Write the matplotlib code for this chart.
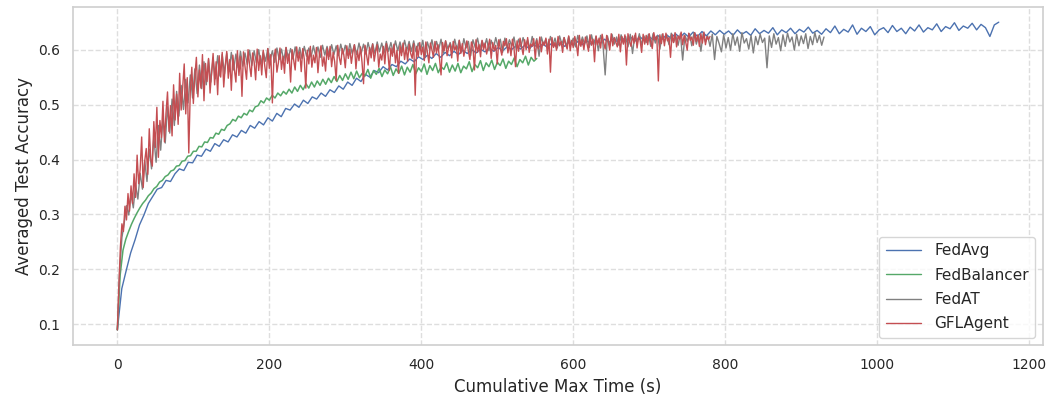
import numpy as np
import matplotlib
matplotlib.use("Agg")
import matplotlib.pyplot as plt
import seaborn as sns

# accuracy values in percent
fedavg_end = 1160
fedavg = [
    9.0, 16.5, 19.8, 23.0, 25.4, 28.1, 29.9, 32.0, 33.3, 34.6, 34.9, 36.2, 36.0, 37.4, 38.3, 38.0, 39.5, 39.4, 40.8, 40.6,
    41.9, 41.5, 42.9, 42.4, 43.6, 43.2, 44.5, 44.1, 45.3, 44.8, 46.2, 45.7, 46.9, 46.3, 47.6, 47.0, 48.4, 47.8, 49.3, 49.0,
    50.1, 49.5, 50.8, 50.2, 51.4, 51.0, 52.1, 51.5, 52.7, 52.2, 53.4, 52.8, 54.1, 53.5, 54.8, 54.2, 55.5, 55.0, 56.2, 55.8,
    56.9, 56.3, 57.3, 56.9, 57.9, 57.4, 58.3, 57.8, 58.7, 58.2, 59.0, 58.4, 59.3, 58.6, 59.5, 58.9, 59.7, 59.1, 59.9, 59.3,
    60.0, 59.4, 60.1, 59.6, 60.3, 59.7, 60.4, 59.8, 60.5, 60.0, 60.7, 60.1, 60.8, 60.2, 60.9, 60.4, 61.0, 60.5, 61.1, 60.6,
    61.2, 60.6, 61.4, 60.8, 61.5, 60.9, 61.6, 61.0, 61.8, 61.1, 61.9, 61.3, 62.0, 61.4, 62.1, 61.5, 62.2, 61.6, 62.3, 61.7,
    62.4, 61.8, 62.6, 61.9, 62.7, 62.1, 62.9, 62.2, 63.0, 62.3, 63.2, 62.4, 63.3, 62.5, 63.4, 62.7, 63.5, 62.8, 63.4, 62.6,
    63.6, 62.8, 63.3, 62.6, 63.8, 62.9, 63.5, 63.0, 64.0, 62.7, 63.6, 63.1, 63.9, 62.9, 63.7, 63.2, 64.1, 63.0, 63.5, 62.8,
    63.8, 63.1, 64.3, 62.9, 63.7, 63.2, 64.5, 62.8, 63.9, 63.3, 64.2, 62.7, 63.6, 64.0, 63.1, 64.4, 63.3, 63.9, 62.9, 64.1,
    63.4, 64.5, 63.2, 64.0, 63.6, 64.7, 63.3, 64.2, 63.8, 64.9, 63.5, 64.3, 63.9, 64.8, 63.6, 64.6, 64.0, 62.4, 64.5, 65.0,
]

fedbalancer_end = 552
fedbalancer = [
    9.0, 19.0, 23.5, 25.5, 26.9, 28.2, 29.3, 30.3, 31.2, 32.0, 32.6, 33.4, 33.9, 34.7, 35.1, 35.9, 36.2, 36.9, 37.2, 37.9,
    38.1, 38.8, 38.9, 39.7, 39.8, 40.6, 40.7, 41.5, 41.5, 42.4, 42.3, 43.2, 43.1, 44.0, 43.9, 44.8, 44.6, 45.5, 45.3, 46.2,
    46.5, 47.3, 47.0, 47.9, 47.6, 48.4, 48.1, 49.0, 48.7, 49.6, 49.8, 50.7, 50.3, 51.2, 50.8, 51.7, 51.2, 52.1, 51.6, 52.4,
    51.9, 52.8, 52.1, 53.2, 52.4, 53.5, 52.7, 53.8, 53.0, 54.1, 53.2, 54.3, 53.5, 54.6, 53.7, 54.8, 54.0, 55.1, 54.2, 55.3,
    54.4, 55.6, 54.6, 55.9, 54.7, 56.1, 54.9, 55.7, 55.2, 56.4, 54.8, 56.2, 55.5, 56.6, 55.1, 56.3, 55.6, 56.9, 55.3, 56.5,
    55.7, 57.0, 55.4, 56.8, 55.9, 57.3, 55.6, 56.7, 56.0, 57.4, 55.5, 57.1, 56.2, 57.5, 55.8, 56.9, 56.4, 57.6, 55.9, 57.2,
    56.1, 57.5, 55.8, 57.0, 56.5, 57.8, 56.0, 57.3, 56.7, 58.0, 56.2, 57.6, 56.9, 58.1, 56.4, 57.7, 57.1, 58.3, 56.6, 57.9,
    57.3, 58.5, 56.9, 58.2, 57.6, 58.8, 57.2, 58.6, 57.9, 58.4,
]

fedat_end = 930
fedat = [
    9.0, 19.5, 25.8, 28.4, 31.6, 29.9, 33.7, 31.2, 35.4, 32.8,
    37.5, 34.6, 39.8, 36.0, 41.9, 38.3, 44.0, 39.5, 46.2, 41.7,
    47.5, 43.0, 49.6, 44.8, 51.0, 46.2, 52.4, 47.9, 53.5, 49.1,
    54.6, 50.3, 55.4, 51.2, 56.5, 52.0, 57.2, 52.9, 57.8, 53.6,
    58.2, 54.1, 58.5, 54.7, 58.9, 55.2, 59.1, 55.6, 59.3, 56.0,
    59.5, 56.3, 59.2, 56.7, 59.7, 57.0, 59.4, 57.3, 59.9, 57.1,
    59.8, 57.6, 60.0, 57.4, 59.6, 57.9, 60.2, 58.1, 59.8, 57.7,
    60.3, 58.2, 60.1, 58.0, 60.4, 58.5, 60.2, 58.3, 60.5, 58.6,
    60.4, 58.4, 60.6, 58.8, 60.3, 58.7, 60.7, 58.9, 60.5, 58.6,
    60.8, 59.0, 60.6, 58.8, 60.9, 59.1, 60.7, 58.9, 61.0, 59.2,
    60.8, 59.0, 61.1, 59.3, 60.9, 59.1, 61.2, 59.4, 61.0, 59.2,
    61.3, 59.5, 61.1, 59.3, 61.4, 59.6, 61.2, 59.4, 61.5, 59.7,
    61.3, 59.5, 61.6, 59.8, 61.4, 59.6, 61.7, 59.9, 61.5, 59.7,
    61.6, 59.6, 61.2, 59.9, 61.7, 58.8, 61.4, 60.0, 61.8, 59.7,
    61.5, 60.1, 61.9, 59.4, 61.6, 60.2, 61.3, 59.8, 61.9, 60.0,
    61.7, 59.6, 62.0, 60.3, 61.5, 58.9, 61.8, 60.4, 62.1, 60.1,
    61.6, 60.5, 62.0, 59.8, 61.7, 60.3, 62.2, 60.6, 61.9, 59.5,
    62.1, 60.4, 61.8, 60.7, 62.3, 60.0, 61.9, 60.5, 62.2, 60.8,
    61.8, 60.2, 62.4, 60.6, 62.0, 58.8, 62.3, 60.9, 61.9, 60.4,
    62.4, 60.7, 62.1, 60.3, 62.5, 61.0, 62.2, 60.6, 62.4, 60.9,
    62.1, 60.5, 62.6, 60.8, 62.3, 61.0, 62.5, 60.4, 62.7, 60.9,
    62.4, 59.8, 62.6, 61.1, 55.4, 62.5, 60.7, 62.8, 61.0, 62.3,
    60.8, 62.7, 61.2, 62.4, 60.5, 62.8, 59.3, 62.6, 61.1, 62.9,
    60.9, 62.5, 61.3, 62.8, 60.6, 62.9, 61.2, 62.6, 60.1, 62.8,
    61.4, 62.7, 60.9, 63.0, 61.3, 62.5, 60.8, 62.9, 58.1, 62.6,
    61.5, 62.9, 60.7, 63.1, 61.0, 62.6, 59.7, 62.9, 61.4, 62.5,
    60.6, 62.8, 58.2, 62.4, 61.1, 59.6, 62.7, 60.3, 62.2, 59.9,
    62.9, 60.8, 62.3, 59.7, 63.1, 61.2, 62.0, 60.1, 62.6, 59.4,
    62.4, 60.9, 62.8, 61.3, 62.1, 56.7, 62.5, 60.4, 62.9, 61.0,
    62.2, 59.8, 62.7, 60.6, 63.0, 61.4, 62.3, 59.9, 62.8, 60.7,
    62.5, 61.1, 62.9, 60.2, 62.4, 60.9, 63.1, 61.3, 62.6, 60.8,
    62.3,
]

gflagent_end = 780
gflagent = [
    9.0, 17.2, 24.1, 28.3, 26.9, 31.5, 29.0, 33.8, 30.6, 35.2,
    32.0, 37.4, 33.1, 40.8, 35.6, 38.2, 44.1, 34.9, 39.7, 42.0,
    37.3, 45.6, 40.1, 38.8, 46.9, 42.2, 49.5, 40.4, 47.1, 44.0,
    50.6, 43.2, 48.4, 52.3, 45.1, 49.8, 44.3, 53.6, 47.2, 51.9,
    46.4, 55.7, 49.0, 53.2, 57.4, 48.3, 54.9, 41.2, 52.5, 56.8,
    50.2, 55.1, 58.6, 51.4, 56.3, 53.0, 59.1, 50.7, 57.5, 54.2,
    58.4, 52.1, 55.9, 59.3, 53.6, 57.8, 51.8, 58.9, 55.0, 59.5,
    53.2, 57.1, 59.7, 54.8, 58.2, 52.6, 59.0, 56.4, 54.1, 59.8,
    55.3, 58.7, 51.5, 59.6, 56.9, 54.6, 60.0, 57.2, 55.1, 59.4,
    57.8, 54.5, 60.1, 56.2, 58.9, 55.4, 59.9, 57.0, 54.9, 60.2,
    56.6, 59.1, 50.3, 58.4, 60.1, 55.9, 57.7, 60.3, 56.4, 58.8,
    55.7, 60.4, 57.5, 59.2, 54.1, 60.0, 58.1, 56.3, 60.5, 57.9,
    59.6, 56.0, 60.2, 58.3, 53.0, 59.9, 57.4, 60.6, 56.8, 59.0,
    57.6, 60.4, 55.8, 59.3, 60.7, 57.0, 58.7, 56.1, 60.3, 58.2,
    60.6, 56.9, 59.5, 57.8, 54.4, 60.8, 58.6, 57.3, 60.2, 59.1,
    56.7, 60.7, 58.4, 60.1, 57.5, 59.6, 60.9, 56.5, 59.8, 58.0,
    60.5, 57.7, 53.8, 60.8, 59.0, 57.2, 60.4, 58.5, 61.0, 57.9,
    59.7, 60.9, 56.8, 59.2, 58.1, 60.6, 57.4, 61.1, 59.4, 56.2,
    60.3, 58.8, 61.0, 57.6, 59.9, 55.7, 60.7, 58.9, 61.2, 58.2,
    60.4, 57.9, 61.0, 59.3, 58.4, 61.1, 51.7, 60.6, 58.7, 61.3,
    59.1, 60.5, 58.0, 61.4, 59.6, 57.6, 61.2, 60.0, 58.6, 61.5,
    59.4, 60.9, 58.3, 55.4, 61.3, 59.8, 61.6, 58.9, 60.4, 61.0,
    58.5, 61.5, 59.9, 60.7, 57.9, 61.7, 59.3, 61.1, 58.8, 60.3,
    61.6, 59.7, 58.2, 61.4, 60.5, 56.3, 61.8, 59.5, 60.9, 58.7,
    61.7, 60.0, 61.2, 59.2, 60.6, 61.9, 58.4, 61.3, 59.8, 60.8,
    57.4, 61.8, 60.2, 59.0, 61.5, 60.7, 62.0, 59.4, 61.1, 58.9,
    61.9, 60.3, 56.9, 61.6, 59.7, 62.1, 60.5, 59.1, 61.8, 60.0,
    62.2, 59.5, 61.0, 60.6, 62.0, 58.3, 61.7, 60.1, 62.3, 59.6,
    61.4, 60.8, 62.1, 59.2, 61.9, 55.9, 62.2, 60.4, 61.3, 59.9,
    62.4, 60.7, 61.5, 59.5, 62.2, 61.0, 60.1, 62.5, 59.8, 61.7,
    60.4, 62.4, 61.1, 58.9, 62.6, 60.6, 61.8, 60.0, 62.3, 61.2,
    59.7, 62.7, 60.8, 61.9, 57.8, 62.5, 60.9, 62.1, 60.3, 62.8,
    61.3, 60.1, 62.6, 61.6, 59.9, 62.9, 60.7, 62.2, 61.4, 60.5,
    62.8, 59.6, 62.4, 61.0, 62.7, 57.2, 62.9, 61.5, 60.6, 62.5,
    61.2, 63.0, 60.3, 62.3, 61.7, 59.5, 62.8, 61.0, 62.6, 60.9,
    62.9, 61.4, 60.2, 63.1, 61.8, 62.4, 54.3, 62.7, 61.1, 62.9,
    60.7, 63.0, 61.6, 62.2, 58.6, 62.8, 61.3, 63.1, 60.5, 62.5,
    61.9, 63.2, 60.9, 62.6, 61.4, 59.9, 63.0, 61.7, 62.3, 60.8,
    63.1, 61.5, 62.7, 60.6, 62.9, 61.2, 63.2, 60.9, 62.4, 61.8,
    62.4,
]

series = [
    ("FedAvg", fedavg, fedavg_end, "b", 1.0),
    ("FedBalancer", fedbalancer, fedbalancer_end, "g", 1.1),
    ("FedAT", fedat, fedat_end, "gray", 1.0),
    ("GFLAgent", gflagent, gflagent_end, "r", 1.0),
]

sns.set_theme(style="whitegrid", color_codes=True)
plt.rcParams["grid.linestyle"] = "--"
plt.rcParams["grid.color"] = "#dedede"

fig, ax = plt.subplots(figsize=(10.47, 4.0), dpi=100)

for name, vals, end, col, lw in series:
    y = np.array(vals) / 100.0
    x = np.linspace(0, end, len(y))
    ax.plot(x, y, color=col, linewidth=lw, label=name)

for s in ax.spines.values():
    s.set_edgecolor("#d0d0d0")

ax.set_xlabel("Cumulative Max Time (s)", fontsize=12)
ax.set_ylabel("Averaged Test Accuracy", fontsize=12)
ax.tick_params(labelsize=10)
leg = ax.legend(loc="lower right", fontsize=11, labelspacing=0.62,
                handlelength=2.3, handletextpad=0.9)
for h in leg.get_lines():
    h.set_linewidth(1.0)

fig.subplots_adjust(left=0.07, right=0.996, top=0.983, bottom=0.137)
fig.savefig("out.png")
